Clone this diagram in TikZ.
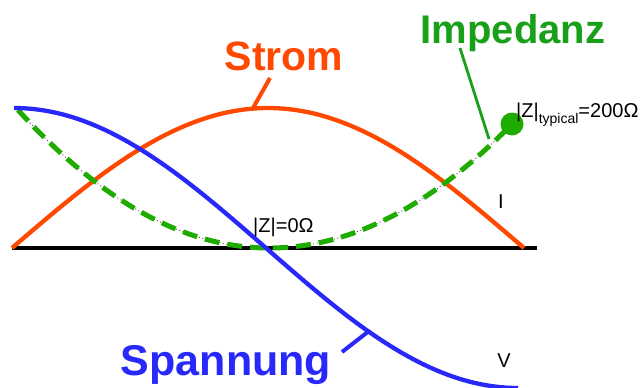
\documentclass[tikz,border=0pt]{standalone}
\usepackage{fontspec}
\setmainfont{Liberation Sans}
\definecolor{stromc}{RGB}{255,72,0}
\definecolor{spannc}{RGB}{40,40,250}
\definecolor{impc}{RGB}{30,172,0}
\definecolor{impt}{RGB}{25,160,25}
\begin{document}
\begin{tikzpicture}[x=1pt,y=-1pt,
  biglabel/.style={inner sep=0pt, anchor=base, font=\bfseries\fontsize{41}{41}\selectfont},
  smalllabel/.style={inner sep=0pt, font=\fontsize{20}{20}\selectfont, text=black},
  axisline/.style={line width=4pt, black},
  curve/.style={line width=4.3pt, line join=round},
  leader/.style={line width=4pt},
  imppath/.style={line width=5pt, impc, dash pattern=on 15pt off 8pt},
  dotpath/.style={line width=0.9pt, black!70, dash pattern=on 0.9pt off 2.6pt}]
\useasboundingbox (0,0) rectangle (640,388);
\fill[white] (0,0) rectangle (640,388);

% axis
\coordinate (ax0) at (12,248);
\coordinate (ax1) at (537,248);
\draw[axisline] (ax0) -- (ax1);

% current (Strom)
\draw[curve, stromc] plot[domain=0:180, samples=80, variable=\t] ({12+2.84444*\t},{248-140*sin(\t)});

% impedance (parabola)
\coordinate (gs) at (18,110);
\coordinate (gv) at (269,248);
\coordinate (ge) at (512,124);
\draw[dotpath] (gs) .. controls (101.7,202) and (185.3,248) .. (gv) .. controls (350,248) and (431,206.7) .. (ge);
\draw[imppath] (gs) .. controls (101.7,202) and (185.3,248) .. (gv) .. controls (350,248) and (431,206.7) .. (ge);
\node[circle, fill=impc, minimum size=23pt, inner sep=0pt] (dot) at (512,124) {};

% voltage (Spannung)
\draw[curve, spannc] plot[domain=0:180, samples=80, variable=\t] ({14+2.8*\t},{248-140*cos(\t)});

% big labels
\node[biglabel, text=stromc] (strom) at (284,70) {Strom};
\node[biglabel, text=impt, font=\bfseries\fontsize{40}{40}\selectfont] (imped) at (513,43) {Impedanz};
\node[biglabel, text=spannc, font=\bfseries\fontsize{43}{43}\selectfont] (spann) at (226,375) {Spannung};

% leaders
\coordinate (sl0) at (270,78);
\coordinate (sl1) at (253,108);
\draw[leader, stromc] (sl0) -- (sl1);
\coordinate (il0) at (460,48);
\coordinate (il1) at (489,139);
\draw[line width=2.8pt, impt] (il0) -- (il1);
\coordinate (pl0) at (342,352);
\coordinate (pl1) at (369,331);
\draw[leader, spannc] (pl0) -- (pl1);

% small labels
\node[smalllabel, anchor=base west] (z0) at (253,232) {|Z|=0Ω};
\node[smalllabel, anchor=base west] (zt) at (516,117) {|Z|\raisebox{-6pt}{\fontsize{14}{14}\selectfont typical}=200Ω};
\node[smalllabel, anchor=base] (ilab) at (501,208) {I};
\node[smalllabel, anchor=base] (vlab) at (504,367) {V};
\end{tikzpicture}
\end{document}
